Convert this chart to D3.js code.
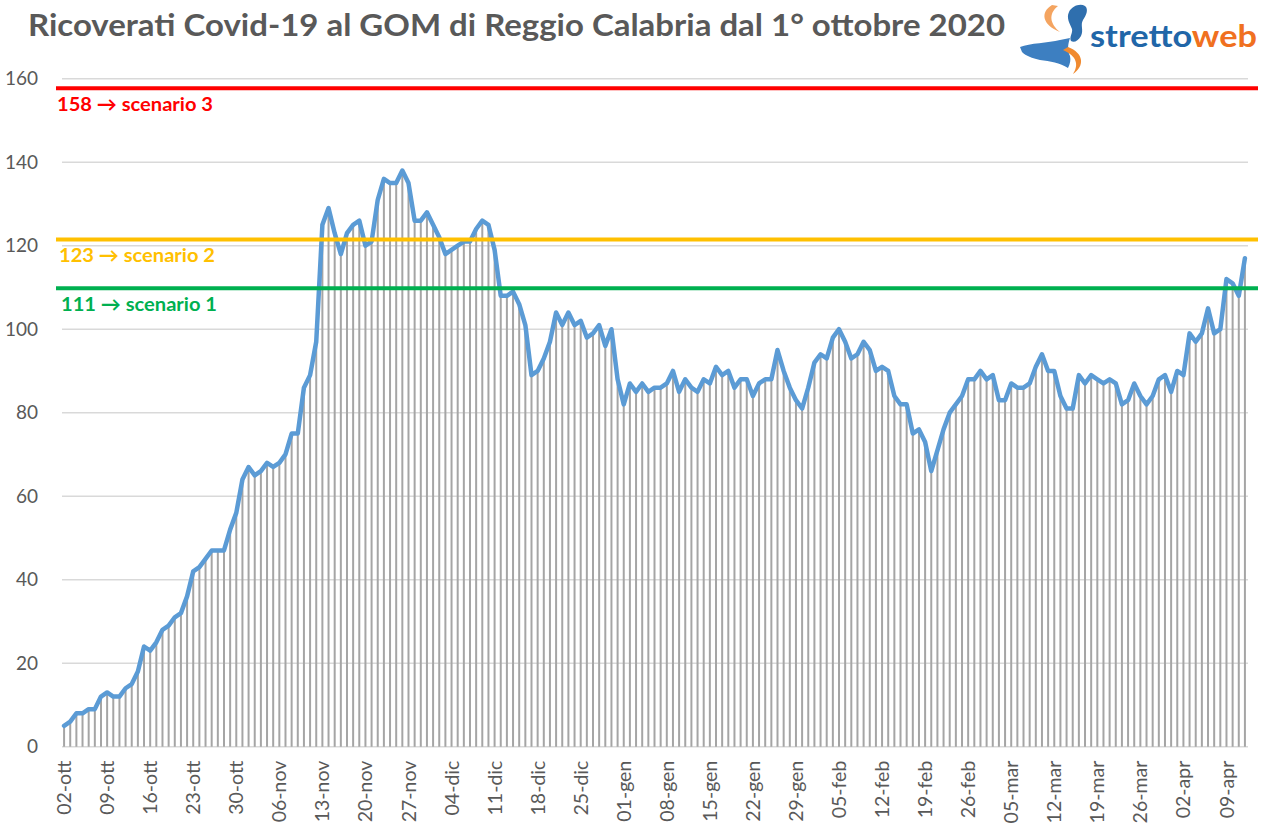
<!DOCTYPE html>
<html>
<head>
<meta charset="utf-8">
<script src="https://cdn.jsdelivr.net/npm/d3@7"></script>
<style>
  body { margin: 0; background: #fff; }
  text { font-family: Lato, "Open Sans", sans-serif; }
</style>
</head>
<body>
<div id="chart"></div>
<script>
// Chart data
const startDate = new Date(2020, 9, 2);
const endDate = new Date(2021, 3, 13); // exclusive
const monthNames = ["gen", "feb", "mar", "apr", "mag", "giu", "lug", "ago", "set", "ott", "nov", "dic"];

// daily patients (02-ott-2020 .. 12-apr-2021)
const ricoverati = [
  5, 6, 8, 8, 9, 9, 12, 13, 12, 12, 14, 15, 18, 24, 23, 25, 28, 29, 31, 32,
  36, 42, 43, 45, 47, 47, 47, 52, 56, 64, 67, 65, 66, 68, 67, 68, 70, 75, 75, 86,
  89, 97, 125, 129, 123, 118, 123, 125, 126, 120, 121, 131, 136, 135, 135, 138, 135, 126, 126, 128,
  125, 122, 118, 119, 120, 121, 121, 124, 126, 125, 119, 108, 108, 109, 106, 101, 89, 90, 93, 97,
  104, 101, 104, 101, 102, 98, 99, 101, 96, 100, 88, 82, 87, 85, 87, 85, 86, 86, 87, 90,
  85, 88, 86, 85, 88, 87, 91, 89, 90, 86, 88, 88, 84, 87, 88, 88, 95, 90, 86, 83,
  81, 86, 92, 94, 93, 98, 100, 97, 93, 94, 97, 95, 90, 91, 90, 84, 82, 82, 75, 76,
  73, 66, 71, 76, 80, 82, 84, 88, 88, 90, 88, 89, 83, 83, 87, 86, 86, 87, 91, 94,
  90, 90, 84, 81, 81, 89, 87, 89, 88, 87, 88, 87, 82, 83, 87, 84, 82, 84, 88, 89,
  85, 90, 89, 99, 97, 99, 105, 99, 100, 112, 111, 108, 117
];

const yTicks = [0, 20, 40, 60, 80, 100, 120, 140, 160];

// scenario lines (drawn level) and their labels
const scenarioLevels = [157.7, 121.5, 109.8];
const scenarioLabels = ["158 → scenario 3", "123 → scenario 2", "111 → scenario 1"];
const scenarioColors = ["#ff0000", "#ffc000", "#00b050"];

const title = "Ricoverati Covid-19 al GOM di Reggio Calabria dal 1° ottobre 2020";

// Set up dimensions
const width = 1268, height = 840;

const dates = d3.timeDay.range(startDate, endDate);
const fmtDay = d3.timeFormat("%d");
const dateLabel = d => fmtDay(d) + "-" + monthNames[d.getMonth()];

const svg = d3.select("#chart").append("svg")
  .attr("width", width)
  .attr("height", height);

const x = d3.scaleBand()
  .domain(d3.range(ricoverati.length))
  .range([61, 1248])
  .padding(0);
const bw = x.bandwidth();

const y = d3.scaleLinear()
  .domain([0, 160])
  .range([746.7, 78.7]);

// gridlines
svg.append("g")
  .selectAll("line")
  .data(yTicks)
  .join("line")
  .attr("x1", 62)
  .attr("x2", 1248)
  .attr("y1", d => y(d))
  .attr("y2", d => y(d))
  .attr("stroke", "#d9d9d9")
  .attr("stroke-width", 1.4);

// y axis labels
const yAxis = svg.append("g")
  .attr("transform", "translate(44,0)")
  .call(d3.axisLeft(y).tickValues(yTicks).tickSize(0).tickPadding(6));
yAxis.select(".domain").remove();
yAxis.selectAll("text")
  .attr("fill", "#595959")
  .style("font-size", "19px")
  .style("font-family", "Lato, 'Open Sans', sans-serif");

// x axis labels, one every week
const xAxis = svg.append("g")
  .attr("transform", `translate(0,${y(0)})`)
  .call(d3.axisBottom(x)
    .tickValues(d3.range(0, ricoverati.length, 7))
    .tickFormat(i => dateLabel(dates[i]))
    .tickSize(0));
xAxis.select(".domain").remove();
xAxis.selectAll("text")
  .attr("transform", "rotate(-90)")
  .attr("text-anchor", "end")
  .attr("x", -14)
  .attr("y", 0)
  .attr("dy", "0.36em")
  .attr("fill", "#595959")
  .style("font-size", "19.5px")
  .style("font-family", "Lato, 'Open Sans', sans-serif");

// drop lines
svg.append("g")
  .selectAll("line")
  .data(ricoverati)
  .join("line")
  .attr("x1", (d, i) => x(i) + bw / 2)
  .attr("x2", (d, i) => x(i) + bw / 2)
  .attr("y1", y(0))
  .attr("y2", d => y(d))
  .attr("stroke", "#a5a5a5")
  .attr("stroke-width", 2);

// main line
const line = d3.line()
  .x((d, i) => x(i) + bw / 2)
  .y(d => y(d));

svg.append("path")
  .datum(ricoverati)
  .attr("d", line)
  .attr("fill", "none")
  .attr("stroke", "#5b9bd5")
  .attr("stroke-width", 4.5)
  .attr("stroke-linejoin", "round")
  .attr("stroke-linecap", "round");

// scenario lines + labels
const scen = svg.append("g")
  .selectAll("g")
  .data(scenarioLevels)
  .join("g");

scen.append("line")
  .attr("x1", 56)
  .attr("x2", 1258)
  .attr("y1", d => y(d))
  .attr("y2", d => y(d))
  .attr("stroke", (d, i) => scenarioColors[i])
  .attr("stroke-width", 4);

scen.append("text")
  .attr("x", (d, i) => 57 + i * 2)
  .attr("y", d => y(d) + 22.5)
  .attr("fill", (d, i) => scenarioColors[i])
  .attr("textLength", 156)
  .attr("lengthAdjust", "spacingAndGlyphs")
  .style("font-size", "19.5px")
  .style("font-weight", "bold")
  .text((d, i) => scenarioLabels[i]);

// title
svg.append("text")
  .attr("x", 28)
  .attr("y", 36)
  .attr("fill", "#595959")
  .attr("textLength", 977)
  .attr("lengthAdjust", "spacingAndGlyphs")
  .style("font-size", "30px")
  .style("font-weight", "bold")
  .text(title);

// logo (rough sketch of the strettoweb mark)
const logo = svg.append("g");
logo.append("path") // sicily
  .attr("d", "M1020,47 C1030,43 1048,43 1060,40 L1070,38 C1068,44 1067,50 1070,56 C1071,60 1070,64 1068,68 C1060,63 1050,61 1040,60 C1032,58 1026,56 1022,52 Z")
  .attr("fill", "#3d7fc1");
logo.append("path") // calabria
  .attr("d", "M1069,12 C1072,6 1080,3 1085,6 C1089,9 1086,16 1083,20 C1080,25 1084,30 1081,36 C1078,41 1074,43 1071,41 C1069,37 1073,33 1072,29 C1070,24 1066,18 1069,12 Z")
  .attr("fill", "#2f6fae");
logo.append("path") // upper swoosh
  .attr("d", "M1052,5 C1040,12 1042,25 1060,32 C1050,24 1048,14 1058,6 Z")
  .attr("fill", "#f4a460");
logo.append("path") // lower swoosh
  .attr("d", "M1068,47 C1084,53 1085,66 1073,74 C1079,65 1077,56 1063,50 Z")
  .attr("fill", "#f08a30");

const logoText = svg.append("text")
  .attr("x", 1090)
  .attr("y", 47)
  .attr("textLength", 167)
  .attr("lengthAdjust", "spacingAndGlyphs")
  .style("font-size", "30px")
  .style("font-weight", "bold");
logoText.append("tspan").attr("fill", "#2166a8").text("stretto");
logoText.append("tspan").attr("fill", "#f07020").text("web");
</script>
</body>
</html>
